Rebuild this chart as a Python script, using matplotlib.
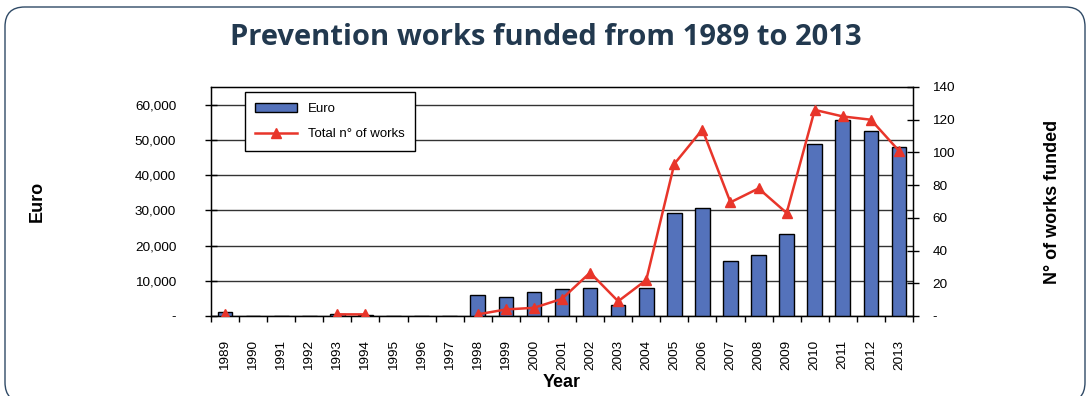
import matplotlib.pyplot as plt
import numpy as np
from matplotlib.patches import FancyBboxPatch
from matplotlib.ticker import FuncFormatter

plt.rcParams['font.family'] = ['Liberation Sans', 'DejaVu Sans']

years = [str(y) for y in range(1989, 2014)]
euro = [1200, 0, 0, 0, 500, 400, 0, 0, 0, 5900, 5300, 6800, 7750, 8000, 3000,
        8000, 29300, 30700, 15700, 17300, 23200, 48900, 55700, 52600, 48100]
works = [1, np.nan, np.nan, np.nan, 1, 1, np.nan, np.nan, np.nan, 1, 4, 5, 10.5,
         26.5, 9, 22, 93, 114, 69.5, 78, 63, 126, 122, 120, 101]

x = np.arange(len(years))

fig = plt.figure(figsize=(10.91, 3.96), dpi=100)

# rounded frame around the whole panel
frame = FancyBboxPatch((5 / 1091, -6 / 396), 1080 / 1091, 395 / 396,
                       boxstyle='round,pad=0,rounding_size=0.018',
                       transform=fig.transFigure, fill=False,
                       edgecolor='#2f4a66', linewidth=1.0, mutation_aspect=2.75)
fig.patches.append(frame)

fig.text(0.5, 0.905, 'Prevention works funded from 1989 to 2013', ha='center',
         va='center', fontsize=21, fontweight='bold', color='#22394f',
         family=['Open Sans', 'DejaVu Sans'])

ax = fig.add_axes([211 / 1091, 80 / 396, 702 / 1091, 229 / 396])
ax.bar(x, euro, width=0.52, color='#5472bb', edgecolor='black', linewidth=1.0,
       zorder=3, label='Euro')
ax.set_xlim(-0.5, len(years) - 0.5)
ax.set_ylim(0, 65000)
ax.set_yticks(np.arange(0, 60001, 10000))
ax.yaxis.set_major_formatter(FuncFormatter(lambda v, p: '-' if v == 0 else f'{int(v):,}'))
ax.grid(axis='y', color='#333333', linewidth=1.0, zorder=0)
ax.set_xticks(x)
ax.set_xticklabels(years, rotation=90, fontsize=9.7)
ax.set_xticks(np.arange(-0.5, len(years), 1), minor=True)
ax.tick_params(axis='x', which='major', length=0, pad=17)
ax.tick_params(axis='x', which='minor', length=4, width=1)
ax.tick_params(axis='y', labelsize=9.7, length=8, width=1, direction='inout', pad=21)
for s in ax.spines.values():
    s.set_linewidth(1.0)
ax.set_ylabel('Euro', fontsize=13, fontweight='bold', labelpad=64)
ax.set_xlabel('Year', fontsize=13, fontweight='bold', labelpad=3)

ax2 = ax.twinx()
ax2.plot(x, works, color='#e8352a', linewidth=1.8, marker='^', markersize=7,
         zorder=4, label='Total n° of works')
ax2.set_ylim(0, 140)
ax2.set_yticks(np.arange(0, 141, 20))
ax2.yaxis.set_major_formatter(FuncFormatter(lambda v, p: '-' if v == 0 else f'{int(v)}'))
ax2.tick_params(axis='y', labelsize=9.7, length=8, width=1, direction='inout', pad=10)
ax2.set_ylabel('N° of works funded', fontsize=13, fontweight='bold', labelpad=64,
               rotation=90)

h1, l1 = ax.get_legend_handles_labels()
h2, l2 = ax2.get_legend_handles_labels()
leg = ax2.legend(h1 + h2, l1 + l2, loc='upper left', bbox_to_anchor=(0.048, 0.978),
                 borderaxespad=0, fontsize=9.5, frameon=True, fancybox=False,
                 edgecolor='black', framealpha=1, borderpad=0.8, labelspacing=1.0,
                 handlelength=3.2)
leg.get_frame().set_linewidth(1.0)

fig.savefig('out.png', dpi=100, facecolor='white')
